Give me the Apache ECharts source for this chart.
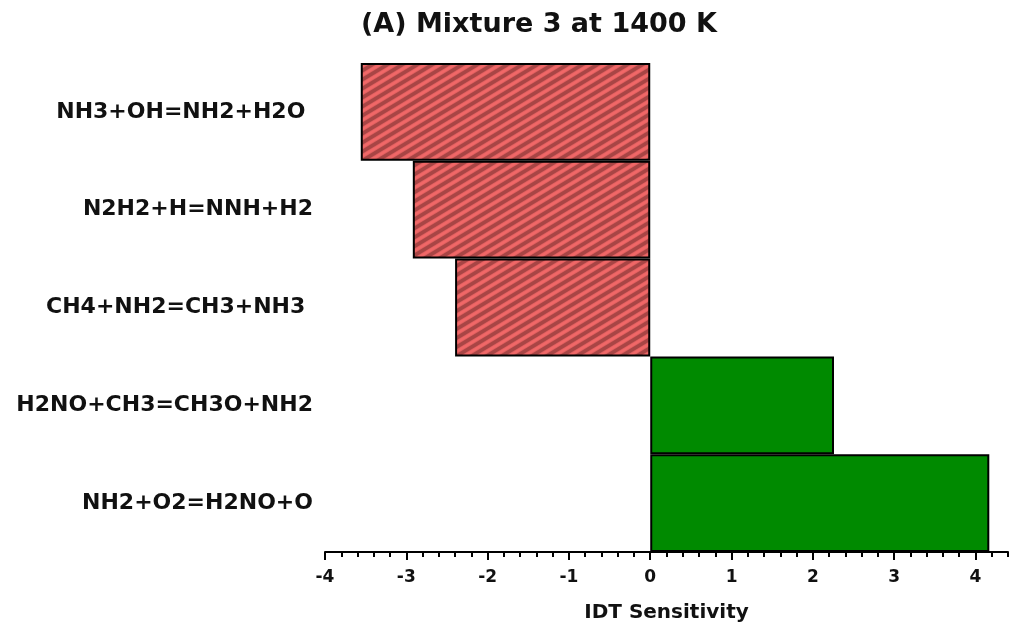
<!DOCTYPE html>
<html>
<head>
<meta charset="utf-8">
<script src="https://cdn.jsdelivr.net/npm/echarts@6/dist/echarts.min.js"></script>
<style>
  html, body { margin: 0; padding: 0; background: #fff; }
  #chart { width: 1013px; height: 631px; }
</style>
</head>
<body>
<div id="chart"></div>
<script>
// Reactions ranked by ignition-delay-time sensitivity (top to bottom)
const reactions = [
  'NH3+OH=NH2+H2O ',
  'N2H2+H=NNH+H2',
  'CH4+NH2=CH3+NH3 ',
  'H2NO+CH3=CH3O+NH2',
  'NH2+O2=H2NO+O'
];
const sensitivity = [-3.56, -2.92, -2.40, 2.26, 4.17];
const xTicks = [-4, -3, -2, -1, 0, 1, 2, 3, 4];
const xMin = -4;
const xMax = 4.4;
const minorStep = 0.2;

const FONT = 'DejaVu Sans';

// Diagonal hatch used for the negative (inhibiting) bars
function hatchPattern() {
  const w = 15, h = 9;
  const c = document.createElement('canvas');
  c.width = w; c.height = h;
  const ctx = c.getContext('2d');
  ctx.fillStyle = '#f46a6a';
  ctx.fillRect(0, 0, w, h);
  ctx.strokeStyle = '#a84545';
  ctx.lineWidth = 3.4;
  ctx.shadowColor = '#a84545';
  ctx.shadowBlur = 2;
  for (const dx of [-w, 0, w]) {
    ctx.beginPath();
    ctx.moveTo(dx - w, 2 * h);
    ctx.lineTo(dx + 2 * w, -h);
    ctx.stroke();
  }
  return { image: c, repeat: 'repeat' };
}
const hatch = hatchPattern();

const chart = echarts.init(document.getElementById('chart'), null, { renderer: 'canvas' });

const labelFont = { fontFamily: FONT, fontWeight: 'bold', color: '#111' };

chart.setOption({
  animation: false,
  backgroundColor: '#ffffff',
  title: {
    text: '(A) Mixture 3 at 1400 K',
    left: 356,
    top: 6,
    textStyle: Object.assign({ fontSize: 27 }, labelFont)
  },
  grid: { left: 325, right: 5, top: 63, bottom: 79, containLabel: false },
  xAxis: [
    {
      // main axis: line, major ticks, labels, name
      type: 'value',
      min: xMin,
      max: xMax,
      interval: 1,
      name: 'IDT Sensitivity',
      nameLocation: 'middle',
      nameGap: 51,
      nameTextStyle: Object.assign({ fontSize: 20 }, labelFont),
      axisLine: { show: true, onZero: false, lineStyle: { color: '#000', width: 2 } },
      axisTick: {
        show: true, inside: false, length: 8,
        customValues: xTicks,
        lineStyle: { color: '#000', width: 2 }
      },
      splitLine: { show: false },
      axisLabel: Object.assign({
        margin: 17,
        fontSize: 17,
        customValues: xTicks,
        formatter: v => String(v)
      }, labelFont)
    },
    {
      // minor ticks every 0.2
      type: 'value',
      position: 'bottom',
      min: xMin,
      max: xMax,
      interval: minorStep,
      axisLine: { show: false, onZero: false },
      axisTick: { show: true, inside: false, length: 5, lineStyle: { color: '#000', width: 2 } },
      axisLabel: { show: false },
      splitLine: { show: false }
    }
  ],
  yAxis: {
    type: 'category',
    inverse: true,
    data: reactions,
    axisLine: { show: false, onZero: false },
    axisTick: { show: false },
    splitLine: { show: false },
    axisLabel: Object.assign({ margin: 12, fontSize: 22 }, labelFont)
  },
  series: [{
    type: 'bar',
    xAxisIndex: 0,
    barCategoryGap: '0%',
    data: sensitivity.map(v => ({
      value: v,
      itemStyle: {
        color: v < 0 ? hatch : '#008a00',
        borderColor: '#000',
        borderWidth: 2
      }
    }))
  }]
});
</script>
</body>
</html>
